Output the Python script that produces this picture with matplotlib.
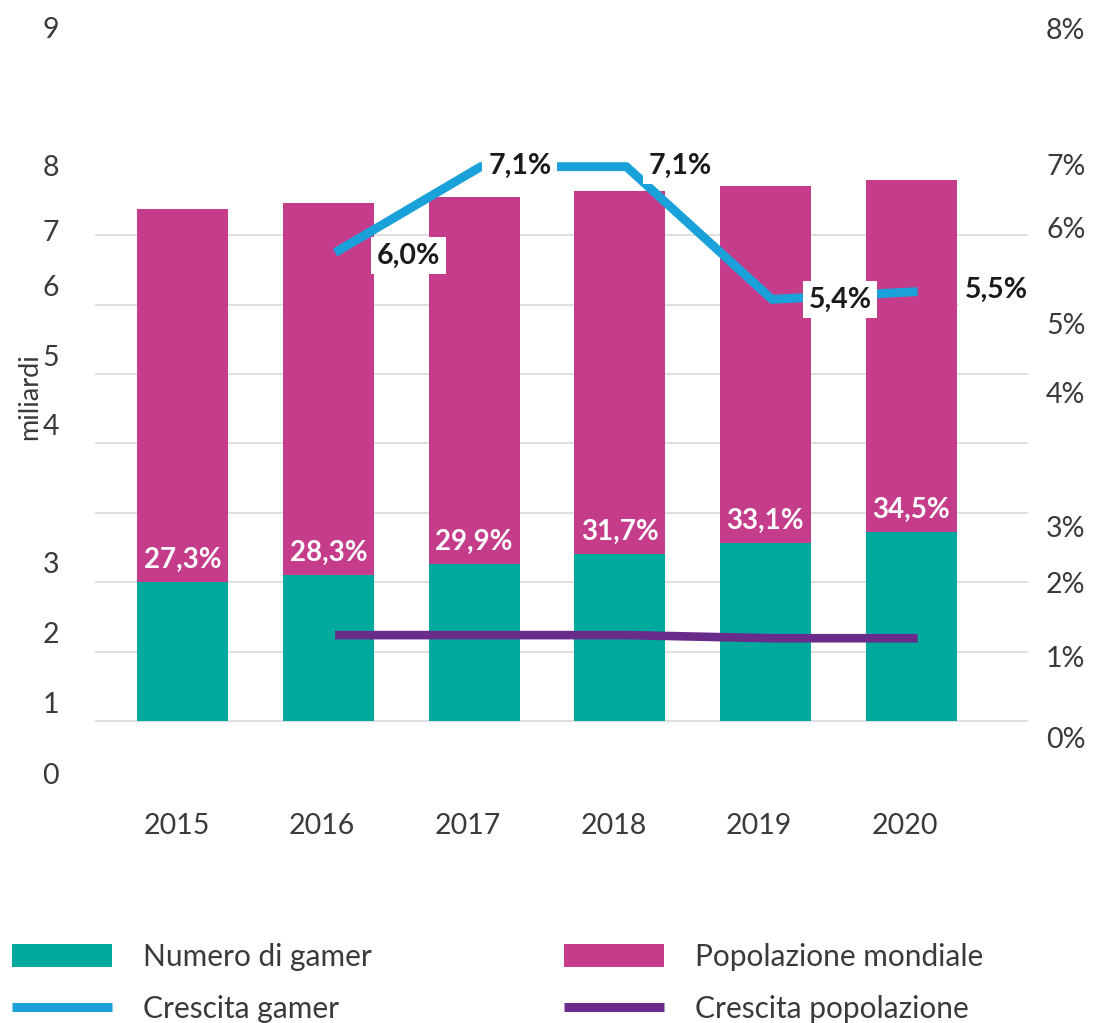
import numpy as np
import matplotlib
matplotlib.use("Agg")
import matplotlib.pyplot as plt
from matplotlib.patches import Patch
from matplotlib.lines import Line2D

# ---------------- data ----------------
anni = ["2015", "2016", "2017", "2018", "2019", "2020"]
popolazione_mondiale = [7.38, 7.46, 7.55, 7.63, 7.71, 7.79]   # miliardi
numero_gamer = [2.00, 2.10, 2.26, 2.41, 2.57, 2.72]           # miliardi
quota_gamer = ["27,3%", "28,3%", "29,9%", "31,7%", "33,1%", "34,5%"]
crescita_gamer = [np.nan, 6.0, 7.1, 7.1, 5.4, 5.5]            # %
crescita_popolazione = [np.nan, 1.10, 1.10, 1.10, 1.06, 1.06]  # %

left_tick_labels = ["9", "8", "7", "6", "5", "4", "3", "2", "1", "0"]
right_tick_labels = ["8%", "7%", "6%", "5%", "4%", "3%", "2%", "1%", "0%"]

# ---------------- layout / style ----------------
left_tick_pos = [9.99, 8.00, 7.07, 6.28, 5.27, 4.27, 2.29, 1.28, 0.26, -0.75]
right_tick_pos = [8.87, 7.13, 6.32, 5.09, 4.21, 2.49, 1.78, 0.82, -0.21]
label_offsets = [None, (73, -3), (39, 1), (54, 1), (68, 0), (79, 2)]  # pixels

TEAL = "#00A99D"
PINK = "#C53C8B"
BLUE = "#1BA1DA"
PURPLE = "#6A2C8B"
GRID = "#D9D9D9"
TXT = "#3A3A3A"

FONT = ["Lato", "DejaVu Sans"]
plt.rcParams["font.family"] = FONT

W, H = 1094, 1023
fig = plt.figure(figsize=(W / 100, H / 100), dpi=100)

ax_l, ax_r = 95 / W, 1028 / W
ax_b, ax_t = 1 - 790.4 / H, 1 - 13.1 / H
ax = fig.add_axes([ax_l, ax_b, ax_r - ax_l, ax_t - ax_b])
ylo, yhi = -1.0, 10.2
ax.set_ylim(ylo, yhi)
ax.set_xlim(-0.604, 5.803)

x = np.arange(len(anni))
bw = 0.625
ax.bar(x, popolazione_mondiale, width=bw, color=PINK, zorder=2)
ax.bar(x, numero_gamer, width=bw, color=TEAL, zorder=3)

for xi, g, lab in zip(x, numero_gamer, quota_gamer):
    ax.annotate(lab, (xi, g), xytext=(0, 22), textcoords="offset pixels",
                ha="center", va="center", color="white", fontsize=20,
                fontweight="bold", zorder=4)

for s in ax.spines.values():
    s.set_visible(False)

ax.set_yticks(left_tick_pos)
ax.set_yticklabels(left_tick_labels)
ax.set_yticks(np.arange(0, 9), minor=True)
ax.yaxis.grid(True, which="minor", color=GRID, linewidth=1.2)
ax.yaxis.grid(False, which="major")
ax.set_axisbelow(True)
ax.tick_params(axis="y", which="both", length=0, pad=26, labelsize=20.5,
               labelcolor=TXT)
ax.set_xticks(x - 0.045)
ax.set_xticklabels(anni)
ax.tick_params(axis="x", length=0, pad=16, labelsize=20.5, labelcolor=TXT)

# right axis
ax2 = ax.twinx()
ax2.set_ylim(ylo * 8 / 9, yhi * 8 / 9)
for s in ax2.spines.values():
    s.set_visible(False)
ax2.set_yticks(right_tick_pos)
ax2.set_yticklabels(right_tick_labels)
ax2.tick_params(axis="y", length=0, pad=13, labelsize=20.5, labelcolor=TXT)

xl = x + 0.045
ax2.plot(xl, crescita_popolazione, color=PURPLE, lw=6.2,
         solid_capstyle="butt", solid_joinstyle="round", zorder=5)
ax2.plot(xl, crescita_gamer, color=BLUE, lw=6.4,
         solid_capstyle="butt", solid_joinstyle="round", zorder=6)

for xi, v, off in zip(xl, crescita_gamer, label_offsets):
    if np.isnan(v):
        continue
    lab = f"{v:.1f}".replace(".", ",") + "%"
    ax2.annotate(lab, (xi, v), xytext=off, textcoords="offset pixels",
                 ha="center", va="center", fontsize=20.5, fontweight="bold",
                 color="#1A1A1A", zorder=7,
                 bbox=dict(boxstyle="square,pad=0.2", fc="white", ec="none"))

fig.text(30 / W, 1 - 397 / H, "miliardi", rotation=90, ha="center",
         va="center", fontsize=19.5, color=TXT)

# legends
h1 = [Patch(facecolor=TEAL, edgecolor="none"),
      Line2D([0], [0], color=BLUE, lw=6.5, solid_capstyle="butt")]
h2 = [Patch(facecolor=PINK, edgecolor="none"),
      Line2D([0], [0], color=PURPLE, lw=6.5, solid_capstyle="butt")]
common = dict(loc="upper left", frameon=False, fontsize=21.5,
              handlelength=3.35, handleheight=0.8, handletextpad=1.04,
              labelspacing=0.8, borderpad=0, borderaxespad=0,
              labelcolor=TXT)
fig.legend(h1, ["Numero di gamer", "Crescita gamer"],
           bbox_to_anchor=(12 / W, 1 - 943 / H), **common)
fig.legend(h2, ["Popolazione mondiale", "Crescita popolazione"],
           bbox_to_anchor=(564 / W, 1 - 943 / H), **common)

fig.savefig("out.png", dpi=100)
